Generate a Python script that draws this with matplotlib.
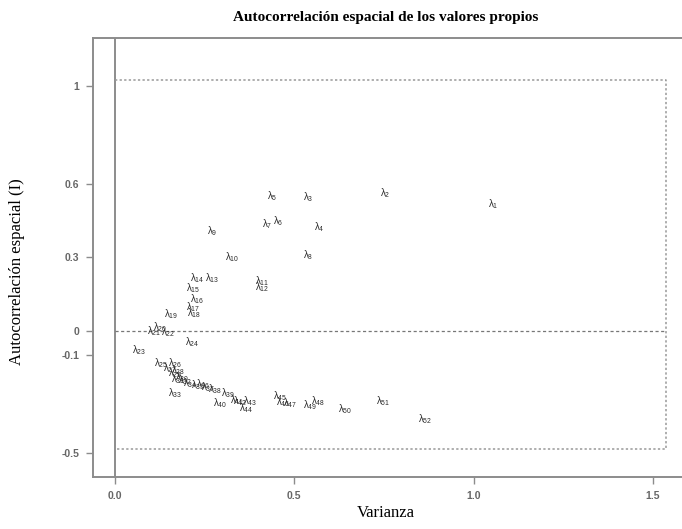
import matplotlib
matplotlib.use("Agg")
import matplotlib.pyplot as plt

plt.rcParams['mathtext.fontset'] = 'custom'
plt.rcParams['mathtext.rm'] = 'Liberation Sans'
plt.rcParams['mathtext.it'] = 'Liberation Sans:italic'

# Eigenvector index and (variance, Moran's I) positions
ids = list(range(1, 53))
varianza = [1.054, 0.753, 0.539, 0.571, 0.438, 0.454, 0.424, 0.539, 0.270, 0.326,
            0.410, 0.410, 0.270, 0.229, 0.218, 0.229, 0.218, 0.220, 0.156, 0.125,
            0.109, 0.148, 0.067, 0.215, 0.128, 0.167, 0.153, 0.176, 0.167, 0.187,
            0.176, 0.195, 0.167, 0.209, 0.231, 0.245, 0.259, 0.279, 0.315, 0.293,
            0.340, 0.349, 0.376, 0.365, 0.460, 0.468, 0.488, 0.565, 0.543, 0.641,
            0.747, 0.864]
autocorr = [0.517, 0.562, 0.546, 0.424, 0.550, 0.448, 0.436, 0.309, 0.408, 0.301,
            0.203, 0.179, 0.215, 0.215, 0.174, 0.130, 0.097, 0.072, 0.068, 0.015,
            -0.001, -0.005, -0.079, -0.046, -0.132, -0.132, -0.152, -0.160, -0.172,
            -0.188, -0.196, -0.200, -0.254, -0.213, -0.221, -0.217, -0.229, -0.237,
            -0.254, -0.295, -0.282, -0.286, -0.286, -0.315, -0.266, -0.291, -0.295,
            -0.286, -0.303, -0.319, -0.286, -0.360]

yticks = [1, 0.6, 0.3, 0, -0.1, -0.5]
ytick_labels = ["1", "0.6", "0.3", "0", "-0.1", "-0.5"]
xticks = [0.0, 0.5, 1.0, 1.5]
xtick_labels = ["0.0", "0.5", "1.0", "1.5"]

box_x = [0, 1.536]
box_y = [-0.482, 1.025]

fig = plt.figure(figsize=(6.82, 5.29), dpi=100)
ax = fig.add_axes([0.1364, 0.0983, 0.8636, 0.8299])
ax.set_xlim(-0.0613, 1.581)
ax.set_ylim(-0.598, 1.196)

gray = '#8c8c8c'
for s in ['left', 'top', 'bottom']:
    ax.spines[s].set_color(gray)
    ax.spines[s].set_linewidth(1.4)
ax.spines['right'].set_visible(False)

ax.axvline(0, color=gray, lw=1.4)
ax.plot([box_x[0], box_x[1], box_x[1], box_x[0]],
        [box_y[1], box_y[1], box_y[0], box_y[0]],
        color='#999999', lw=1.1, ls=(0, (1.5, 1.5)))
ax.plot(box_x, [0, 0], color='#777777', lw=0.9, ls=(0, (2.5, 2)))

for i, xv, yv in zip(ids, varianza, autocorr):
    ax.text(xv, yv, 'λ$_{\\mathregular{%d}}$' % i, ha='center', va='center',
            fontsize=7, color='#2a2a2a', family='Liberation Sans')

ax.set_yticks(yticks)
ax.set_yticklabels(ytick_labels)
ax.set_xticks(xticks)
ax.set_xticklabels(xtick_labels)
ax.tick_params(axis='both', colors=gray, labelcolor='#666666', labelsize=7.5,
               length=5, width=1.0, direction='out')
ax.tick_params(axis='y', pad=5)
ax.tick_params(axis='x', pad=5)
for lab in ax.get_xticklabels() + ax.get_yticklabels():
    lab.set_family('Liberation Sans')
    lab.set_fontweight('bold')

fig.text(0.565, 0.966, 'Autocorrelación espacial de los valores propios',
         ha='center', va='center', fontsize=11, fontweight='bold',
         family='Liberation Serif')
fig.text(0.565, 0.030, 'Varianza', ha='center', va='center', fontsize=12,
         family='Liberation Serif')
fig.text(0.025, 0.487, 'Autocorrelación espacial (I)', ha='center', va='center',
         rotation=90, fontsize=12, family='Liberation Serif')

fig.savefig('out.png', dpi=100)
